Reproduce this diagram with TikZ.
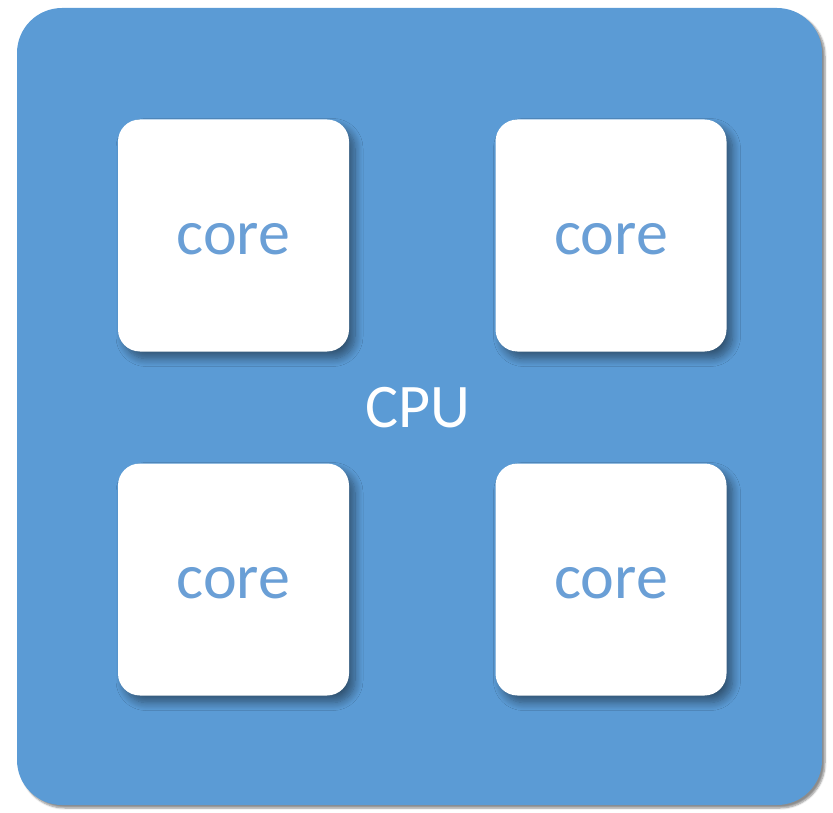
\documentclass[tikz,border=0pt]{standalone}
\usepackage{fontspec}
\setmainfont{Carlito}
\usetikzlibrary{shadows.blur}

\definecolor{cpublue}{HTML}{5B9BD5}
\definecolor{coretext}{HTML}{6A9FD6}

\begin{document}
\begin{tikzpicture}[x=1pt, y=-1pt,
    cpubox/.style={draw=none, fill=cpublue, rounded corners=45pt,
        minimum width=805pt, minimum height=797pt, inner sep=0pt,
        blur shadow={shadow xshift=3pt, shadow yshift=-3pt, shadow blur steps=6, shadow opacity=45}},
    corebox/.style={draw=none, fill=white, rounded corners=22pt,
        minimum width=231pt, minimum height=232pt, inner sep=0pt,
        text=coretext, font=\fontsize{64}{64}\selectfont, text height=38pt, text depth=0pt,
        blur shadow={shadow xshift=6pt, shadow yshift=-7pt, shadow blur steps=10,
            shadow blur radius=8pt, shadow opacity=45}}]
    \useasboundingbox (0, 0) rectangle (833, 813);

    % outer chip
    \node[cpubox] (cpu) at (419.5, 406.5) {};
    \node[text=white, font=\fontsize{62}{62}\selectfont] (cpulabel) at (418, 408) {CPU};

    % the four cores
    \node[corebox] (core1) at (233.5, 235.5) {core};
    \node[corebox] (core2) at (611, 235.5) {core};
    \node[corebox] (core3) at (233.5, 579.5) {core};
    \node[corebox] (core4) at (611, 579.5) {core};
\end{tikzpicture}
\end{document}
